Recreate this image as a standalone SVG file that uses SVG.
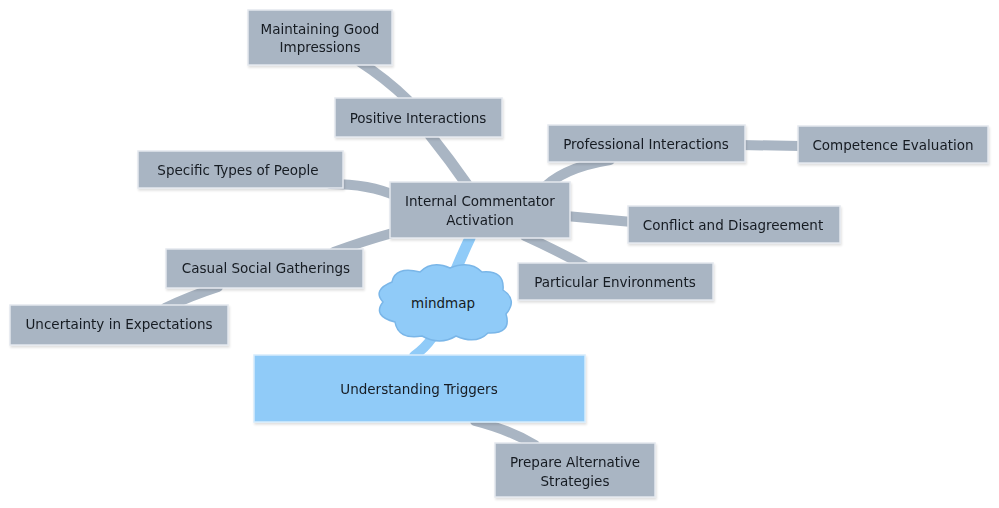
<svg xmlns="http://www.w3.org/2000/svg" width="999" height="508" viewBox="0 0 999 508">
<defs>
<style>
.n{fill:#a9b5c3;stroke:#e4e8ee;stroke-width:1.5}
.b{fill:#90cbf8;stroke:#d6ecfc;stroke-width:1.5}
.c{fill:none;stroke:#a9b5c3;stroke-linecap:round}
.cb{fill:none;stroke:#90cbf8;stroke-linecap:round}
text{font-family:"DejaVu Sans","Liberation Sans",sans-serif;font-size:13.5px;fill:#161b22;text-anchor:middle}
</style>
<filter id="sh" x="-5%" y="-5%" width="110%" height="120%"><feDropShadow dx="1" dy="2" stdDeviation="1" flood-color="#000" flood-opacity="0.12"/></filter>
</defs>
<rect width="999" height="508" fill="#fff"/>
<g id="connectors">
<path class="c" d="M468,186 Q450,160 430,135" stroke-width="11"/>
<path class="c" d="M408,100 Q385,78 360,62" stroke-width="10"/>
<path class="c" d="M540,192 Q560,168 610,160" stroke-width="10"/>
<path class="c" d="M740,145 L800,146" stroke-width="10"/>
<path class="c" d="M396,196 Q370,184 330,184" stroke-width="10"/>
<path class="c" d="M566,216 L632,222" stroke-width="10"/>
<path class="c" d="M396,232 Q360,242 334,252" stroke-width="10"/>
<path class="c" d="M525,236 Q560,252 585,266" stroke-width="10"/>
<path class="c" d="M218,287 Q190,296 165,308" stroke-width="10"/>
<path class="c" d="M475,421 Q510,430 535,445" stroke-width="10"/>
<path class="cb" d="M470,238 Q462,255 455,272" stroke-width="11"/>
<path class="cb" d="M432,338 Q425,348 414,356" stroke-width="10"/>
</g>
<g id="maintaining" filter="url(#sh)"><rect class="n" x="248" y="10" width="144" height="55"/><text x="320" y="34">Maintaining Good</text><text x="320" y="52">Impressions</text></g>
<g id="positive" filter="url(#sh)"><rect class="n" x="335" y="98" width="167" height="39"/><text x="418" y="123">Positive Interactions</text></g>
<g id="ica" filter="url(#sh)"><rect class="n" x="390" y="182" width="180" height="56"/><text x="480" y="206">Internal Commentator</text><text x="480" y="225">Activation</text></g>
<g id="professional" filter="url(#sh)"><rect class="n" x="548" y="125" width="197" height="37"/><text x="646" y="149">Professional Interactions</text></g>
<g id="competence" filter="url(#sh)"><rect class="n" x="798" y="126" width="190" height="37"/><text x="893" y="150">Competence Evaluation</text></g>
<g id="specific" filter="url(#sh)"><rect class="n" x="138" y="151" width="205" height="37"/><text x="238" y="175">Specific Types of People</text></g>
<g id="conflict" filter="url(#sh)"><rect class="n" x="628" y="206" width="212" height="37"/><text x="733" y="230">Conflict and Disagreement</text></g>
<g id="casual" filter="url(#sh)"><rect class="n" x="166" y="249" width="197" height="39"/><text x="266" y="273">Casual Social Gatherings</text></g>
<g id="particular" filter="url(#sh)"><rect class="n" x="518" y="263" width="195" height="37"/><text x="615" y="287">Particular Environments</text></g>
<g id="uncertainty" filter="url(#sh)"><rect class="n" x="10" y="305" width="218" height="40"/><text x="119" y="329">Uncertainty in Expectations</text></g>
<g id="mindmap"><path class="b" d="M392,282 Q395,266 420,272 Q432,260 450,268 Q470,260 482,272 Q505,270 503,290 Q518,300 506,314 Q512,334 488,333 Q476,345 456,336 Q440,346 422,336 Q398,340 395,322 Q372,316 383,302 Q372,290 392,282 Z" style="stroke:#7ab6e8"/><text x="443" y="308">mindmap</text></g>
<g id="understanding" filter="url(#sh)"><rect class="b" x="254" y="355" width="331" height="67"/><text x="419" y="394">Understanding Triggers</text></g>
<g id="prepare" filter="url(#sh)"><rect class="n" x="495" y="443" width="160" height="54"/><text x="575" y="467">Prepare Alternative</text><text x="575" y="486">Strategies</text></g>
</svg>
